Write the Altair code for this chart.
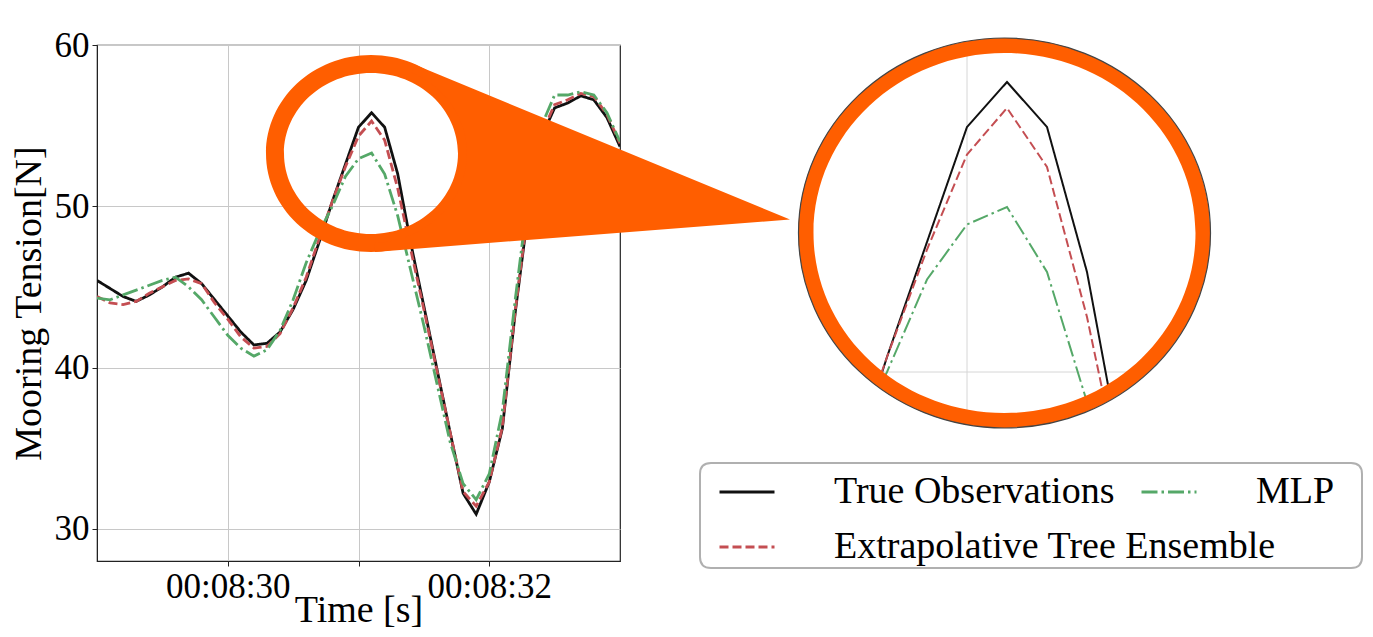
import altair as alt
import numpy as np
import pandas as pd

# ---------------- data ----------------
time_s = [29.0, 29.1, 29.2, 29.3, 29.4, 29.5, 29.6, 29.7, 29.8, 29.9,
          30.0, 30.1, 30.2, 30.3, 30.4, 30.5, 30.6, 30.7, 30.8, 30.9,
          31.0, 31.1, 31.2, 31.3, 31.4, 31.5, 31.6, 31.7, 31.8, 31.9,
          32.0, 32.1, 32.2, 32.3, 32.4, 32.5, 32.6, 32.7, 32.8, 32.9, 33.0]
true_obs = [45.4, 44.9, 44.4, 44.1, 44.5, 45.0, 45.6, 45.85, 45.2, 44.2,
            43.2, 42.2, 41.4, 41.5, 42.2, 43.6, 45.4, 47.8, 50.3, 52.6,
            54.9, 55.8, 54.9, 52.0, 47.7, 43.8, 39.9, 36.0, 32.2, 30.9,
            32.9, 36.2, 43.5, 49.8, 54.3, 56.1, 56.4, 56.85, 56.6, 55.5, 53.7]
tree_ens = [44.4, 44.0, 43.9, 44.1, 44.6, 45.0, 45.4, 45.5, 45.2, 44.0,
            43.0, 41.9, 41.2, 41.3, 42.1, 43.7, 45.6, 48.0, 50.3, 52.45,
            54.35, 55.28, 54.1, 51.1, 47.3, 43.6, 39.8, 36.0, 32.3, 31.4,
            32.9, 36.3, 43.6, 50.0, 54.5, 56.3, 56.6, 57.0, 56.8, 55.7, 53.9]
mlp = [44.3, 44.2, 44.5, 44.8, 45.1, 45.4, 45.6, 45.0, 44.2, 43.1,
       42.0, 41.2, 40.7, 41.1, 42.3, 44.2, 46.5, 48.4, 50.0, 51.85,
       52.95, 53.3, 52.0, 49.4, 46.0, 42.6, 39.0, 35.4, 32.8, 31.8,
       33.4, 37.3, 44.3, 50.8, 55.0, 56.9, 56.9, 57.1, 56.9, 55.8, 54.0]

series_names = ["True Observations", "Extrapolative Tree Ensemble", "MLP"]
series_colors = ["#111111", "#C44E52", "#55A868"]
series_dashes = [[1, 0], [9, 4], [16, 4, 2.5, 4]]
legend_col1 = ["True Observations", "Extrapolative Tree Ensemble"]
legend_col2 = ["MLP"]

x_tick_values = [30, 31, 32]
x_tick_labels = ["00:08:30", "", "00:08:32"]
y_tick_values = [30, 40, 50, 60]
x_domain = [29.0, 33.0]
y_domain = [28, 60]

inset_t_domain = [30.7, 31.5]
inset_v_domain = [45, 57]
inset_grid_t = [31.0]
inset_grid_v = [50]

# ---------------- tables ----------------
rows = []
for name, vals in zip(series_names, [true_obs, tree_ens, mlp]):
    for t, v in zip(time_s, vals):
        rows.append({"t": t, "v": v, "series": name})
df = pd.DataFrame(rows)

FONT = "Liberation Serif"
ORANGE = "#FF5E00"
W, H = 523, 516
OX, OY = 97, 45  # plot origin on the page


def cscale():
    return alt.Scale(domain=series_names, range=series_colors)


def dscale():
    return alt.Scale(domain=series_names, range=series_dashes)


def make_legend(values, lx, ly):
    return alt.Legend(
        title=None, orient="none", legendX=lx, legendY=ly, values=values,
        symbolType="stroke", symbolSize=3025, symbolStrokeWidth=3,
        labelFont=FONT, labelFontSize=38, labelColor="black", labelLimit=1000,
        labelOffset=58, rowPadding=7, padding=0,
    )


legend_a = make_legend(legend_col1, 621, 418)
legend_b = make_legend(legend_col2, 1043, 418)

label_expr = " : ".join(
    f"datum.value == {v} ? '{l}'" for v, l in zip(x_tick_values, x_tick_labels)
) + " : ''"

main = alt.Chart(df).mark_line(strokeWidth=2.8, clip=True).encode(
    x=alt.X("t:Q", scale=alt.Scale(domain=x_domain, nice=False, zero=False),
            axis=alt.Axis(values=x_tick_values, labelExpr=label_expr,
                          title="Time [s]", grid=True, titlePadding=-13,
                          titleFontSize=38)),
    y=alt.Y("v:Q", scale=alt.Scale(domain=y_domain, nice=False, zero=False),
            axis=alt.Axis(values=y_tick_values, title="Mooring Tension[N]",
                          grid=True, titlePadding=6)),
    color=alt.Color("series:N", scale=cscale(), legend=legend_a),
    strokeDash=alt.StrokeDash("series:N", scale=dscale(), legend=legend_a),
)

# inset (zoomed view of the same data)
ix_scale = alt.Scale(domain=inset_t_domain, range=[750, 1070], nice=False, zero=False)
iy_scale = alt.Scale(domain=inset_v_domain, range=[577, -23], nice=False, zero=False)

inset_vgrid = alt.Chart(pd.DataFrame({"t": inset_grid_t})).mark_rule(
    color="#d6d6d6", strokeWidth=1).encode(
    x=alt.X("t:Q", scale=ix_scale, axis=None))
inset_hgrid = alt.Chart(pd.DataFrame({"v": inset_grid_v})).mark_rule(
    color="#d6d6d6", strokeWidth=1).encode(
    y=alt.Y("v:Q", scale=iy_scale, axis=None),
    x=alt.value(703), x2=alt.value(1118))

inset_lines = alt.Chart(df).transform_filter(
    (alt.datum.t >= 30.65) & (alt.datum.t <= 31.45)
).mark_line(strokeWidth=2).encode(
    x=alt.X("t:Q", scale=ix_scale, axis=None),
    y=alt.Y("v:Q", scale=iy_scale, axis=None),
    color=alt.Color("series:N", scale=cscale(), legend=legend_b),
    strokeDash=alt.StrokeDash("series:N", scale=dscale(), legend=legend_b),
)

# ---------------- decoration shapes (paths in pixels, relative to plot origin) ----------------
K = 0.5522847498


def ellipse(cx, cy, rx, ry, cw=True):
    cx -= OX
    cy -= OY
    kx, ky = K * rx, K * ry
    if cw:
        segs = [(cx + rx, cy + ky, cx + kx, cy + ry, cx, cy + ry),
                (cx - kx, cy + ry, cx - rx, cy + ky, cx - rx, cy),
                (cx - rx, cy - ky, cx - kx, cy - ry, cx, cy - ry),
                (cx + kx, cy - ry, cx + rx, cy - ky, cx + rx, cy)]
    else:
        segs = [(cx + rx, cy - ky, cx + kx, cy - ry, cx, cy - ry),
                (cx - kx, cy - ry, cx - rx, cy - ky, cx - rx, cy),
                (cx - rx, cy + ky, cx - kx, cy + ry, cx, cy + ry),
                (cx + kx, cy + ry, cx + rx, cy + ky, cx + rx, cy)]
    s = f"M {cx + rx:.2f} {cy:.2f}"
    for sg in segs:
        s += " C " + " ".join(f"{c:.2f}" for c in sg)
    return s + " Z"


def poly(points):
    pts = [(x - OX, y - OY) for x, y in points]
    s = f"M {pts[0][0]:.2f} {pts[0][1]:.2f}"
    for x, y in pts[1:]:
        s += f" L {x:.2f} {y:.2f}"
    return s + " Z"


def round_rect(x0, y0, x1, y1, r):
    x0 -= OX; x1 -= OX; y0 -= OY; y1 -= OY
    return (f"M {x0 + r} {y0} L {x1 - r} {y0} Q {x1} {y0} {x1} {y0 + r} "
            f"L {x1} {y1 - r} Q {x1} {y1} {x1 - r} {y1} L {x0 + r} {y1} "
            f"Q {x0} {y1} {x0} {y1 - r} L {x0} {y0 + r} Q {x0} {y0} {x0 + r} {y0} Z")


BIG_C = (1004.5, 233.0)
SMALL_C = (371.0, 153.5)

big_ring = ellipse(*BIG_C, 206, 195, True) + " " + ellipse(*BIG_C, 191, 180, False)
big_outline = ellipse(*BIG_C, 206, 195, True)
small_ring = ellipse(*SMALL_C, 105, 98.5, True) + " " + ellipse(*SMALL_C, 87, 80.5, False)
mask = poly([(788, 20), (1222, 20), (1222, 660), (788, 660)]) + " " + \
    ellipse(*BIG_C, 203, 192, False)

apex = (790, 219.5)
T = (415, 100 + 0.4136 * (415 - 500))
B = (375, 250 - 0.0755 * (375 - 400))
arc = [(SMALL_C[0] + 96 * np.cos(np.radians(a)), SMALL_C[1] + 89.5 * np.sin(np.radians(a)))
       for a in np.linspace(88, -65, 40)]
triangle = poly([T, apex, B] + arc)
legend_box = round_rect(700, 463, 1362, 568, 11)

one = pd.DataFrame({"k": [0]})


def shape(path, fill=None, stroke=None, sw=0.0):
    base = alt.Chart(one)
    if fill is not None and stroke is not None:
        m = base.mark_point(shape=path, size=4, filled=True, fill=fill,
                            stroke=stroke, strokeWidth=sw, opacity=1)
    elif fill is not None:
        m = base.mark_point(shape=path, size=4, filled=True, fill=fill,
                            opacity=1, strokeWidth=0)
    else:
        m = base.mark_point(shape=path, size=4, filled=False, stroke=stroke,
                            strokeWidth=sw, opacity=1)
    return m.encode(x=alt.value(0), y=alt.value(0))


chart = alt.layer(
    main,
    inset_vgrid,
    inset_hgrid,
    inset_lines,
    shape(mask, fill="white"),
    shape(big_ring, fill=ORANGE),
    shape(big_outline, stroke="#444444", sw=1.2),
    shape(small_ring, fill=ORANGE),
    shape(triangle, fill=ORANGE),
    shape(legend_box, fill="white", stroke="#b0b0b0", sw=2),
).resolve_scale(
    x="independent", y="independent", color="independent",
    strokeDash="independent"
).properties(
    width=W, height=H,
    autosize=alt.AutoSizeParams(type="none"),
    padding={"left": 89, "top": 37, "right": 745, "bottom": 68},
).configure_axis(
    labelFont=FONT, titleFont=FONT, labelFontSize=35, titleFontSize=38,
    titleFontWeight="normal", labelColor="black", titleColor="black",
    domainColor="#222222", tickColor="#222222", gridColor="#c8c8c8",
    tickSize=5, labelPadding=3,
).configure_view(stroke="#222222", strokeWidth=1.2)

chart.save("out.html", embed_options={"renderer": "svg", "actions": False})
